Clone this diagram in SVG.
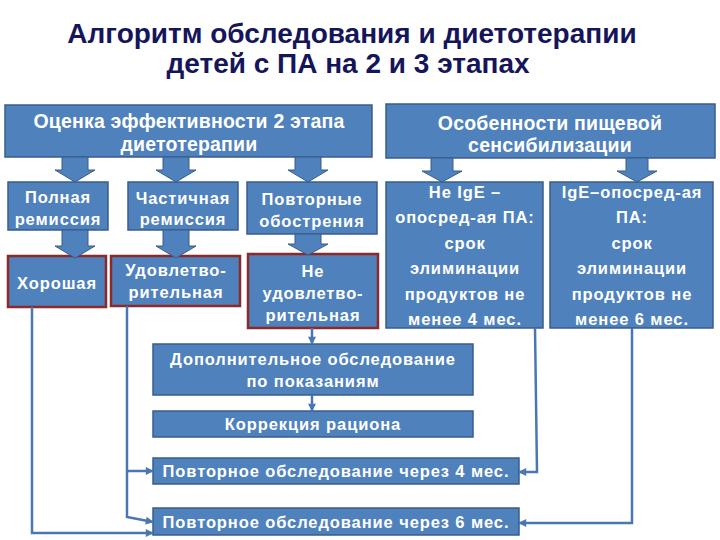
<svg xmlns="http://www.w3.org/2000/svg" width="720" height="540" viewBox="0 0 720 540">
<style>
.box{fill:#4f81bd;stroke:#385d8a;stroke-width:1.5}
.rbox{fill:#4f81bd;stroke:#8c2a2a;stroke-width:2.5}
.t{font-family:"Liberation Sans",Arial,sans-serif;fill:#ffffff;font-size:16.5px;font-weight:bold;letter-spacing:0.9px;text-anchor:middle}
.h{font-size:19.5px;letter-spacing:0.2px}
.title{font-family:"Liberation Sans",Arial,sans-serif;fill:#15155a;font-size:28px;font-weight:bold;text-anchor:middle}
.conn{stroke:#4a76b2;stroke-width:2.5;fill:none;marker-end:url(#ah)}
.barrow{fill:#4f81bd;stroke:#385d8a;stroke-width:1}
</style>
<defs>
<marker id="ah" viewBox="0 0 10 10" refX="9" refY="5" markerWidth="9" markerHeight="8" markerUnits="userSpaceOnUse" orient="auto">
<path d="M0 0 L10 5 L0 10 Z" fill="#4a76b2"/>
</marker>
</defs>
<rect width="720" height="540" fill="#ffffff"/>
<g id="title">
<text class="title" x="352" y="43">Алгоритм обследования и диетотерапии</text>
<text class="title" x="348" y="73">детей с ПА на 2 и 3 этапах</text>
</g>
<g id="n-ocenka"><rect class="box" x="5" y="105" width="367" height="52"/>
<text class="t h" x="189" y="128">Оценка эффективности 2 этапа</text>
<text class="t h" x="189" y="151">диетотерапии</text></g>
<g id="n-osob"><rect class="box" x="386" y="104" width="329" height="54"/>
<text class="t h" x="550" y="130">Особенности пищевой</text>
<text class="t h" x="550" y="152">сенсибилизации</text></g>
<g id="n-polnaya"><rect class="box" x="8" y="182" width="100" height="48"/>
<text class="t" x="58" y="203">Полная</text>
<text class="t" x="58" y="225">ремиссия</text></g>
<g id="n-chast"><rect class="box" x="128" y="182" width="110" height="48"/>
<text class="t" x="183" y="204">Частичная</text>
<text class="t" x="183" y="225">ремиссия</text></g>
<g id="n-povt"><rect class="box" x="247" y="182" width="130" height="52"/>
<text class="t" x="312" y="205">Повторные</text>
<text class="t" x="312" y="227">обострения</text></g>
<g id="n-horosh"><rect class="rbox" x="8" y="256" width="98" height="51"/>
<text class="t" x="57" y="289">Хорошая</text></g>
<g id="n-udovl"><rect class="rbox" x="111" y="256" width="129" height="50"/>
<text class="t" x="176" y="276">Удовлетво-</text>
<text class="t" x="176" y="298">рительная</text></g>
<g id="n-neudovl"><rect class="rbox" x="248" y="254" width="130" height="74"/>
<text class="t" x="313" y="277">Не</text>
<text class="t" x="313" y="299">удовлетво-</text>
<text class="t" x="313" y="321">рительная</text></g>
<g id="n-neige"><rect class="box" x="386" y="182" width="157" height="146"/>
<text class="t" x="465" y="198">Не IgE –</text>
<text class="t" x="465" y="223.4">опосред-ая ПА:</text>
<text class="t" x="465" y="248.8">срок</text>
<text class="t" x="465" y="274.2">элиминации</text>
<text class="t" x="465" y="299.6">продуктов не</text>
<text class="t" x="465" y="325">менее 4 мес.</text></g>
<g id="n-ige"><rect class="box" x="550" y="182" width="163" height="146"/>
<text class="t" x="632" y="198">IgE–опосред-ая</text>
<text class="t" x="632" y="223.4">ПА:</text>
<text class="t" x="632" y="248.8">срок</text>
<text class="t" x="632" y="274.2">элиминации</text>
<text class="t" x="632" y="299.6">продуктов не</text>
<text class="t" x="632" y="325">менее 6 мес.</text></g>
<g id="n-dop"><rect class="box" x="153" y="344" width="320" height="51"/>
<text class="t" x="313" y="365">Дополнительное обследование</text>
<text class="t" x="313" y="387">по показаниям</text></g>
<g id="n-korr"><rect class="box" x="153" y="411" width="320" height="26"/>
<text class="t" x="313" y="430">Коррекция рациона</text></g>
<g id="n-p4"><rect class="box" x="153" y="458" width="366" height="26"/>
<text class="t" x="336" y="477">Повторное обследование через 4 мес.</text></g>
<g id="n-p6"><rect class="box" x="153" y="508" width="366" height="27"/>
<text class="t" x="336" y="527.5">Повторное обследование через 6 мес.</text></g>
<g id="connectors">
<path class="barrow" d="M62 157 H88 V170 H95 L75 182 L55 170 H62 Z"/>
<path class="barrow" d="M163 157 H189 V170 H196 L176 182 L156 170 H163 Z"/>
<path class="barrow" d="M295 157 H321 V170 H328 L308 182 L288 170 H295 Z"/>
<path class="barrow" d="M62 230 H88 V246 H95 L75 258 L55 246 H62 Z"/>
<path class="barrow" d="M163 230 H189 V246 H196 L176 258 L156 246 H163 Z"/>
<path class="barrow" d="M295 234 H321 V244 H328 L308 255 L288 244 H295 Z"/>
<path class="barrow" d="M431 158 H453 V171 H462 L442 182 L422 171 H431 Z"/>
<path class="barrow" d="M626 158 H648 V171 H657 L637 182 L617 171 H626 Z"/>
<path class="conn" d="M312 328 V344"/>
<path class="conn" d="M312 395 V411"/>
<path class="conn" d="M32 307 V533 H153"/>
<path class="conn" d="M127 306 V517 L153 522"/>
<path class="conn" d="M127 471 H153"/>
<path class="conn" d="M535 328 L537 472 H519"/>
<path class="conn" d="M632 328 V523 H519"/>
</g>
</svg>
